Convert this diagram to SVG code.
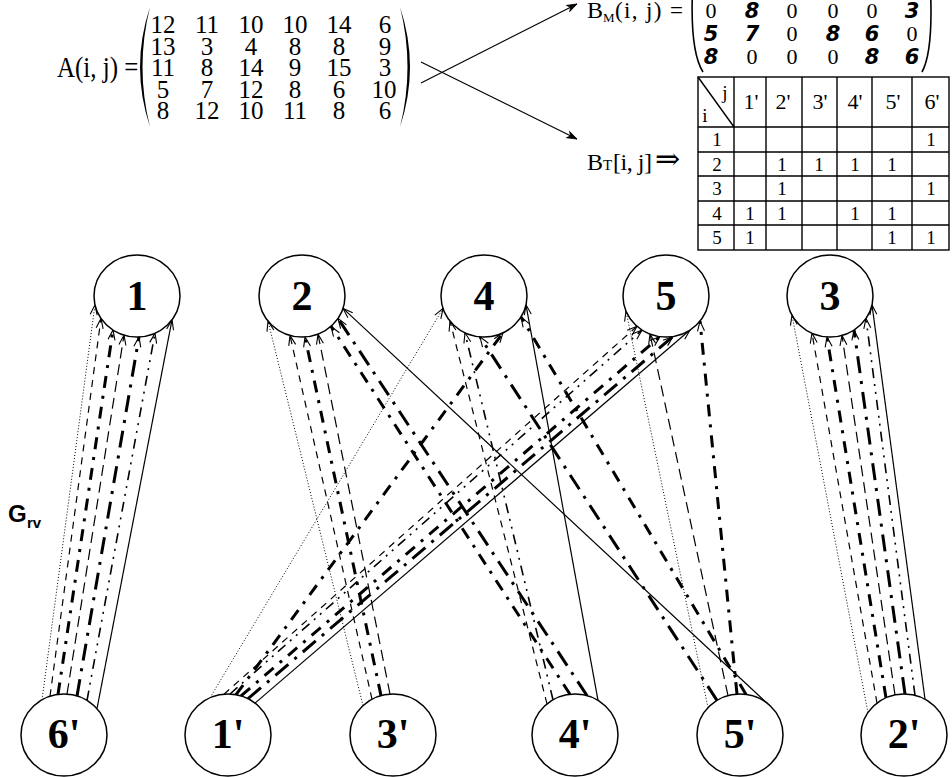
<svg xmlns="http://www.w3.org/2000/svg" width="952" height="777" viewBox="0 0 952 777">
<defs>
<marker id="ah" viewBox="-12 -6 14 12" refX="0" refY="0" markerWidth="14" markerHeight="12" markerUnits="userSpaceOnUse" orient="auto">
<path d="M-10,-3.5 L0,0 L-10,3.5" fill="none" stroke="#000" stroke-width="1.1"/>
</marker>
<marker id="ahf" viewBox="-12 -6 14 12" refX="0" refY="0" markerWidth="14" markerHeight="12" markerUnits="userSpaceOnUse" orient="auto">
<path d="M-10,-3.5 L0,0 L-10,3.5 L-7,0 Z" fill="#000" stroke="#000" stroke-width="0.8"/>
</marker>
</defs>
<style>
.e{fill:none;stroke:#000;marker-end:url(#ah)}
.dot{stroke-width:1;stroke-dasharray:1 2}
.dash{stroke-width:1.2;stroke-dasharray:7 6}
.ldash{stroke-width:1.2;stroke-dasharray:11 6}
.tdd{stroke-width:3;stroke-dasharray:12 8 3 8}
.tdl{stroke-width:3;stroke-dasharray:17 8 3 8}
.dd{stroke-width:1.6;stroke-dasharray:10 6 2 6 2 6}
.sol{stroke-width:1.2}
.node ellipse{fill:#fff;stroke:#000;stroke-width:1.5}
.nl{font-family:"Liberation Serif","DejaVu Serif",serif;font-weight:bold;font-size:42px;text-anchor:middle}
.ser{font-family:"Liberation Serif","DejaVu Serif",serif}
.mx{font-family:"Liberation Serif",serif;font-size:25px;text-anchor:middle}
.bm{font-family:"Liberation Serif",serif;font-size:22px;text-anchor:middle}
.bb{font-family:"DejaVu Sans",sans-serif;font-weight:bold;font-style:italic;font-size:21px;text-anchor:middle}
.tb{font-family:"Liberation Serif",serif;font-size:19px;text-anchor:middle}
.th{font-family:"Liberation Serif",serif;font-size:22px;text-anchor:middle}
.grid{fill:none;stroke:#000;stroke-width:1.4}
</style>
<rect width="952" height="777" fill="#fff"/>

<!-- Matrix A -->
<g id="matrixA">
<text class="ser" x="57" y="77" font-size="25" transform="translate(0,77) scale(1,1.2) translate(0,-77)">A(i, j) =</text>
<path d="M150,7 Q130,67 150,127 Q135,67 150,7 Z" fill="#000"/>
<path d="M400,7 Q420,67 400,127 Q415,67 400,7 Z" fill="#000"/>
<g class="mx">
<text y="33"><tspan x="163">12</tspan><tspan x="207">11</tspan><tspan x="251">10</tspan><tspan x="295">10</tspan><tspan x="339">14</tspan><tspan x="385">6</tspan></text>
<text y="54.5"><tspan x="163">13</tspan><tspan x="207">3</tspan><tspan x="251">4</tspan><tspan x="295">8</tspan><tspan x="339">8</tspan><tspan x="385">9</tspan></text>
<text y="76"><tspan x="163">11</tspan><tspan x="207">8</tspan><tspan x="251">14</tspan><tspan x="295">9</tspan><tspan x="339">15</tspan><tspan x="385">3</tspan></text>
<text y="97.5"><tspan x="163">5</tspan><tspan x="207">7</tspan><tspan x="251">12</tspan><tspan x="295">8</tspan><tspan x="339">6</tspan><tspan x="384">10</tspan></text>
<text y="119"><tspan x="163">8</tspan><tspan x="207">12</tspan><tspan x="251">10</tspan><tspan x="295">11</tspan><tspan x="339">8</tspan><tspan x="385">6</tspan></text>
</g>
<line x1="421" y1="83" x2="577" y2="4" stroke="#000" stroke-width="1.2" marker-end="url(#ahf)"/>
<line x1="421" y1="62" x2="577" y2="139" stroke="#000" stroke-width="1.2" marker-end="url(#ahf)"/>
</g>

<!-- Matrix B_M -->
<g id="matrixBM">
<text class="ser" x="587" y="18" font-size="24">B</text>
<text class="ser" x="603" y="22" font-size="13">M</text>
<text class="ser" x="615" y="18" font-size="23" textLength="68" lengthAdjust="spacing">(i, j) =</text>
<path d="M693,-20 Q689,50 703,72" fill="none" stroke="#000" stroke-width="1.6"/>
<path d="M930,-20 Q934,50 922,72" fill="none" stroke="#000" stroke-width="1.6"/>
<text class="bm" y="18"><tspan x="711">0</tspan><tspan x="792">0</tspan><tspan x="833">0</tspan><tspan x="872">0</tspan></text>
<text class="bb" y="18"><tspan x="752">8</tspan><tspan x="912">3</tspan></text>
<text class="bm" y="41"><tspan x="792">0</tspan><tspan x="912">0</tspan></text>
<text class="bb" y="41"><tspan x="711">5</tspan><tspan x="752">7</tspan><tspan x="833">8</tspan><tspan x="872">6</tspan></text>
<text class="bm" y="64"><tspan x="752">0</tspan><tspan x="792">0</tspan><tspan x="833">0</tspan></text>
<text class="bb" y="64"><tspan x="711">8</tspan><tspan x="872">8</tspan><tspan x="912">6</tspan></text>
</g>

<!-- Table B_T -->
<g id="tableBT">
<text class="ser" x="587" y="170" font-size="24">B</text>
<text class="ser" x="603" y="170" font-size="15">T</text>
<text class="ser" x="613" y="170" font-size="24" textLength="39" lengthAdjust="spacing">[i, j]</text>
<text class="ser" x="655" y="169" font-size="30">⇒</text>
<rect class="grid" x="698" y="77" width="251" height="173"/>
<path class="grid" d="M734,77V250M766,77V250M802,77V250M837,77V250M872,77V250M912,77V250M698,127H949M698,152H949M698,176H949M698,201H949M698,225H949M698,77L734,127"/>
<text class="tb" x="725" y="99">j</text>
<text class="tb" x="705" y="122">i</text>
<g class="th">
<text y="109"><tspan x="751">1'</tspan><tspan x="783">2'</tspan><tspan x="820">3'</tspan><tspan x="855">4'</tspan><tspan x="893">5'</tspan><tspan x="932">6'</tspan></text>
</g>
<g class="tb">
<text x="717" y="146">1</text><text x="717" y="171">2</text><text x="717" y="195">3</text><text x="717" y="220">4</text><text x="717" y="244">5</text>
<text y="146"><tspan x="931">1</tspan></text>
<text y="171"><tspan x="782">1</tspan><tspan x="819">1</tspan><tspan x="855">1</tspan><tspan x="892">1</tspan></text>
<text y="195"><tspan x="782">1</tspan><tspan x="931">1</tspan></text>
<text y="220"><tspan x="750">1</tspan><tspan x="782">1</tspan><tspan x="855">1</tspan><tspan x="892">1</tspan></text>
<text y="244"><tspan x="750">1</tspan><tspan x="892">1</tspan><tspan x="931">1</tspan></text>
</g>
</g>

<!-- Graph label -->
<g id="label-Grv">
<text x="8" y="522" font-family="Liberation Sans, Arial, sans-serif" font-weight="bold" font-size="24">G</text>
<text x="27" y="528" font-family="Liberation Sans, Arial, sans-serif" font-weight="bold" font-size="15">rv</text>
</g>

<!-- Connectors -->
<g id="connectors">
<!-- 6' -> 1 -->
<line class="e dot" x1="42" y1="699.8" x2="95" y2="304.8"/>
<line class="e dash" x1="50" y1="696.2" x2="101" y2="318.4"/>
<line class="e tdd" x1="58" y1="694.4" x2="113" y2="330"/>
<line class="e ldash" x1="67" y1="694.1" x2="124" y2="335.1"/>
<line class="e tdl" x1="77" y1="695.9" x2="139" y2="337"/>
<line class="e dd" x1="87" y1="700.4" x2="155" y2="333.2"/>
<line class="e sol" x1="97" y1="708.7" x2="172" y2="319.8"/>
<!-- 2' -> 3 -->
<line class="e dot" x1="868" y1="712.6" x2="792" y2="315.2"/>
<line class="e dash" x1="877" y1="703.1" x2="812" y2="333.2"/>
<line class="e tdd" x1="886" y1="697.8" x2="827" y2="336.9"/>
<line class="e ldash" x1="895" y1="694.9" x2="842" y2="335.4"/>
<line class="e tdl" x1="905" y1="694" x2="854" y2="330"/>
<line class="e dd" x1="915" y1="695.4" x2="866" y2="318.4"/>
<line class="e sol" x1="925" y1="699.2" x2="872" y2="304.8"/>
<!-- 3' -> 2 -->
<line class="e dot" x1="363" y1="705.6" x2="268" y2="321.1"/>
<line class="e dash" x1="372" y1="699.2" x2="290" y2="335.4"/>
<line class="e tdd" x1="381" y1="695.6" x2="305" y2="336.9"/>
<line class="e ldash" x1="390" y1="694.1" x2="318" y2="334.1"/>
<!-- 4' -> 2 -->
<line class="e tdd" x1="570" y1="694.3" x2="331" y2="326.3"/>
<line class="e tdl" x1="587" y1="695.6" x2="338" y2="318.4"/>
<!-- 4' -> 4 -->
<line class="e dash" x1="547" y1="703.9" x2="450" y2="321.1"/>
<line class="e dd" x1="553" y1="699.8" x2="465" y2="332.8"/>
<line class="e sol" x1="598" y1="700.4" x2="526" y2="304.8"/>
<!-- 1' -> 4 -->
<line class="e dot" x1="210" y1="697.8" x2="443" y2="308.4"/>
<line class="e tdd" x1="236" y1="694.7" x2="503" y2="332.8"/>
<!-- 1' -> 5 -->
<line class="e dash" x1="224" y1="694.2" x2="637" y2="326.3"/>
<line class="e dd" x1="230" y1="694" x2="642" y2="330"/>
<line class="e tdd" x1="241" y1="695.9" x2="660" y2="336.6"/>
<line class="e tdl" x1="248" y1="698.7" x2="673" y2="336.5"/>
<line class="e sol" x1="255" y1="703.1" x2="690" y2="330"/>
<!-- 5' -> 4 -->
<line class="e tdd" x1="746" y1="694.4" x2="521" y2="316.9"/>
<line class="e tdl" x1="717" y1="700.4" x2="480" y2="336.8"/>
<!-- 5' -> 5 -->
<line class="e dot" x1="708" y1="707.6" x2="626" y2="311.1"/>
<line class="e ldash" x1="728" y1="695.6" x2="650" y2="334.1"/>
<line class="e tdd" x1="737" y1="694.1" x2="700" y2="321.1"/>
<!-- 5' -> 2 -->
<line class="e sol" x1="767" y1="703.1" x2="343" y2="308.4"/>
</g>

<!-- Nodes -->
<g id="n1" class="node"><ellipse cx="137" cy="296" rx="43" ry="41"/><text class="nl" x="137" y="310">1</text></g>
<g id="n2" class="node"><ellipse cx="302" cy="296" rx="43" ry="41"/><text class="nl" x="302" y="310">2</text></g>
<g id="n4" class="node"><ellipse cx="484" cy="296" rx="43" ry="41"/><text class="nl" x="484" y="310">4</text></g>
<g id="n5" class="node"><ellipse cx="666" cy="296" rx="43" ry="41"/><text class="nl" x="666" y="310">5</text></g>
<g id="n3" class="node"><ellipse cx="830" cy="296" rx="43" ry="41"/><text class="nl" x="830" y="310">3</text></g>
<g id="n6p" class="node"><ellipse cx="64" cy="735" rx="43" ry="41"/><text class="nl" x="64" y="748">6'</text></g>
<g id="n1p" class="node"><ellipse cx="228" cy="735" rx="43" ry="41"/><text class="nl" x="228" y="748">1'</text></g>
<g id="n3p" class="node"><ellipse cx="393" cy="735" rx="43" ry="41"/><text class="nl" x="393" y="748">3'</text></g>
<g id="n4p" class="node"><ellipse cx="575" cy="735" rx="43" ry="41"/><text class="nl" x="575" y="748">4'</text></g>
<g id="n5p" class="node"><ellipse cx="740" cy="735" rx="43" ry="41"/><text class="nl" x="740" y="748">5'</text></g>
<g id="n2p" class="node"><ellipse cx="904" cy="735" rx="43" ry="41"/><text class="nl" x="904" y="748">2'</text></g>
</svg>
